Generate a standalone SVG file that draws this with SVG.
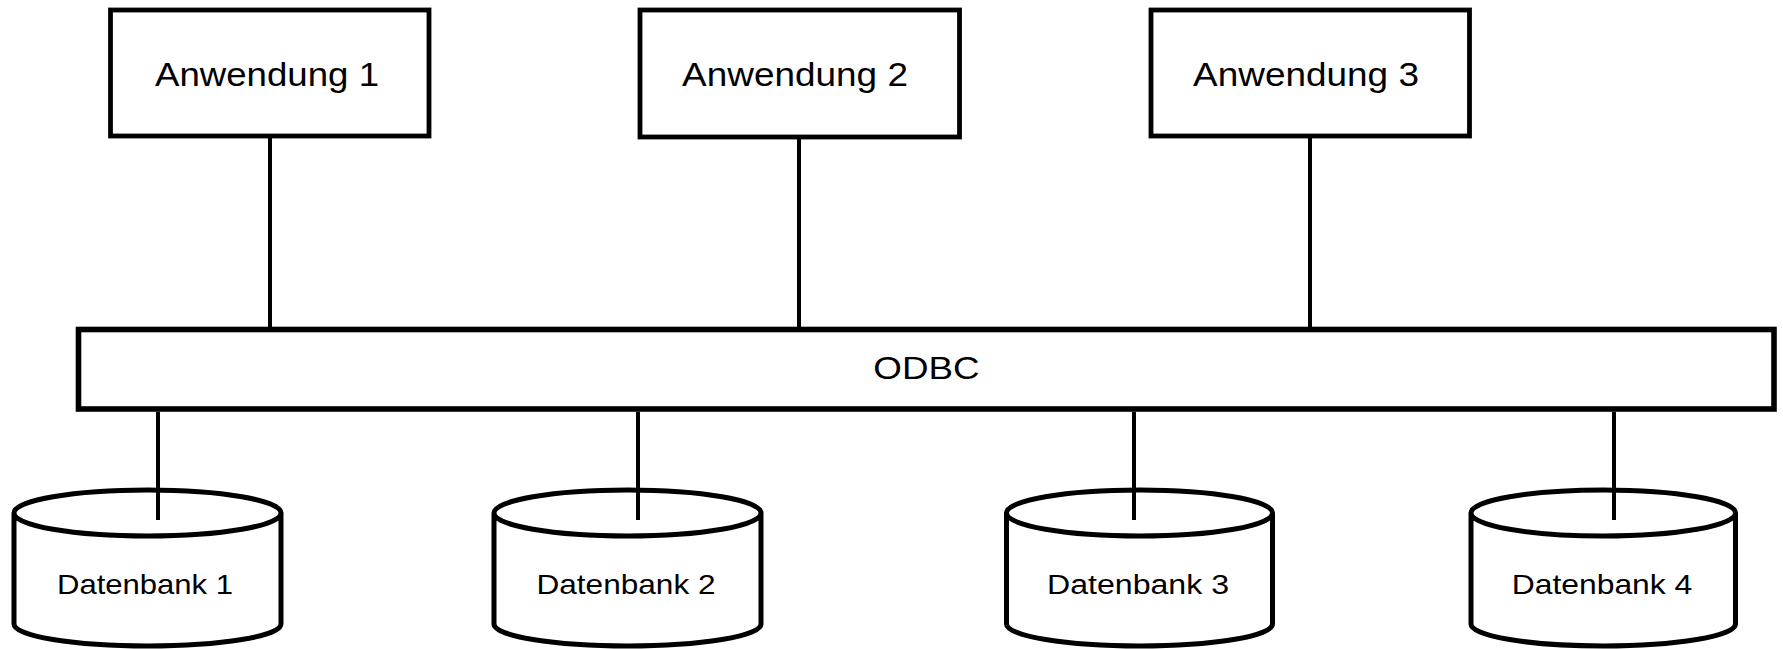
<svg xmlns="http://www.w3.org/2000/svg" width="1783" height="649" viewBox="0 0 1783 649">
<style>
.box{fill:#fff;stroke:#000;stroke-width:4.8}
.bar{fill:#fff;stroke:#000;stroke-width:5.6}
.cyl{fill:#fff;stroke:#000;stroke-width:5}
.con{stroke:#000;stroke-width:4;fill:none}
text{font-family:"Liberation Sans",Arial,sans-serif;fill:#000;text-anchor:middle}
.t1{font-size:33px}
.t2{font-size:32px}
.t3{font-size:27px}
</style>
<rect width="1783" height="649" fill="#fff"/>
<g id="app1"><rect class="box" x="110.5" y="10" width="318.5" height="126"/><text class="t1" transform="translate(267,86) scale(1.11,1)">Anwendung 1</text></g>
<g id="app2"><rect class="box" x="640" y="10" width="319.5" height="127"/><text class="t1" transform="translate(795,86) scale(1.12,1)">Anwendung 2</text></g>
<g id="app3"><rect class="box" x="1151" y="10" width="318.5" height="126"/><text class="t1" transform="translate(1306,86) scale(1.12,1)">Anwendung 3</text></g>
<g id="odbc"><rect class="bar" x="78.5" y="329.5" width="1695.5" height="79.5"/><text class="t2" transform="translate(926.5,379) scale(1.15,1)">ODBC</text></g>
<g id="db1"><path class="cyl" d="M14,513 L14,624 A133.5,22 0 0 0 281,624 L281,513 A133.5,23 0 0 0 14,513 A133.5,23 0 0 0 281,513"/><text class="t3" transform="translate(145,594) scale(1.15,1)">Datenbank 1</text></g>
<g id="db2"><path class="cyl" d="M494,513 L494,624 A133.5,22 0 0 0 761,624 L761,513 A133.5,23 0 0 0 494,513 A133.5,23 0 0 0 761,513"/><text class="t3" transform="translate(626,594) scale(1.17,1)">Datenbank 2</text></g>
<g id="db3"><path class="cyl" d="M1006.5,513 L1006.5,624 A133,22 0 0 0 1272.5,624 L1272.5,513 A133,23 0 0 0 1006.5,513 A133,23 0 0 0 1272.5,513"/><text class="t3" transform="translate(1138,594) scale(1.19,1)">Datenbank 3</text></g>
<g id="db4"><path class="cyl" d="M1471,513 L1471,624 A132.25,22 0 0 0 1735.5,624 L1735.5,513 A132.25,23 0 0 0 1471,513 A132.25,23 0 0 0 1735.5,513"/><text class="t3" transform="translate(1602,594) scale(1.18,1)">Datenbank 4</text></g>
<g id="connectors">
<line class="con" x1="270" y1="138" x2="270" y2="327"/>
<line class="con" x1="799" y1="139" x2="799" y2="327"/>
<line class="con" x1="1310" y1="138" x2="1310" y2="327"/>
<line class="con" x1="158" y1="412" x2="158" y2="520"/>
<line class="con" x1="638" y1="412" x2="638" y2="520"/>
<line class="con" x1="1134" y1="412" x2="1134" y2="520"/>
<line class="con" x1="1614" y1="412" x2="1614" y2="520"/>
</g>
</svg>
